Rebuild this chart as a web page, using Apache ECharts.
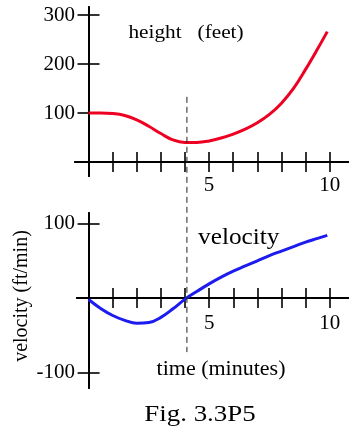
<!DOCTYPE html>
<html>
<head>
<meta charset="utf-8">
<script src="https://cdn.jsdelivr.net/npm/echarts@6/dist/echarts.min.js"></script>
<style>
  html, body { margin: 0; padding: 0; background: #fff; }
  #chart { width: 349px; height: 430px; }
</style>
</head>
<body>
<div id="chart"></div>
<script>
// ticks + labels
const timeTicks = [1, 2, 3, 4, 5, 6, 7, 8, 9, 10];
const timeLabels = [5, 10];
const heightTicks = [100, 200, 300];
const velocityTicks = [-100, 100];

// height (feet) vs time (minutes)
const heightTime = [0, 0.5, 1, 1.5, 2, 2.5, 3, 3.5, 4, 4.5, 5, 5.5, 6, 6.5, 7, 7.5, 8, 8.5, 9, 9.5, 9.9];
const heightFeet = [100, 100, 99, 95, 86, 73, 58, 45, 40, 40, 43, 49, 57, 67, 80, 97, 120, 150, 189, 231, 266];

// velocity (ft/min) vs time (minutes)
const velocityTime = [0, 0.5, 1, 1.5, 2, 2.5, 3, 3.5, 4, 4.5, 5, 5.5, 6, 6.5, 7, 7.5, 8, 8.5, 9, 9.5, 9.9];
const velocityFtMin = [-2, -14, -23.5, -30, -34, -33, -26, -14.5, -1.5, 9, 19, 28, 36, 43, 50, 57, 63, 69, 75, 80, 84];

// dashed guide at the minimum of height / zero of velocity
const turnTime = 4.08;
const guideHeights = [133, -388];

const FONT = '"Liberation Serif", "DejaVu Serif", serif';
const zip = (xs, ys) => xs.map((x, i) => [x, ys[i]]);

const chart = echarts.init(document.getElementById('chart'));

// two copies of each axis: one with ticks out, one with ticks in -> cross ticks
// (labels sit relative to the grid edge, hence the odd margins)
function xAxes(gridIndex, min, yIdx, labelMargin) {
  const base = {
    type: 'value', gridIndex: gridIndex, min: min, max: 10.8,
    position: 'bottom',
    splitLine: { show: false },
    axisLine: { onZero: true, onZeroAxisIndex: yIdx, lineStyle: { color: '#000', width: 2 } },
    axisTick: { customValues: timeTicks, length: 10, lineStyle: { color: '#000', width: 1.6 } }
  };
  return [
    Object.assign({}, base, {
      axisLabel: { customValues: timeLabels, margin: labelMargin, color: '#000', fontFamily: FONT, fontSize: 21 }
    }),
    Object.assign({}, base, {
      axisLine: { onZero: true, onZeroAxisIndex: yIdx + 1, lineStyle: { color: '#000', width: 2 } },
      axisTick: { customValues: timeTicks, length: 10, inside: true, lineStyle: { color: '#000', width: 1.6 } },
      axisLabel: { show: false }
    })
  ];
}

function yAxes(gridIndex, min, max, ticks, xIdx, labelMargin) {
  const base = {
    type: 'value', gridIndex: gridIndex, min: min, max: max,
    position: 'left',
    splitLine: { show: false },
    axisLine: { onZero: true, onZeroAxisIndex: xIdx, lineStyle: { color: '#000', width: 2 } },
    axisTick: { customValues: ticks, length: 11, lineStyle: { color: '#000', width: 1.6 } }
  };
  return [
    Object.assign({}, base, {
      axisLabel: { customValues: ticks, margin: labelMargin, color: '#000', fontFamily: FONT, fontSize: 21 }
    }),
    Object.assign({}, base, {
      axisLine: { onZero: true, onZeroAxisIndex: xIdx + 1, lineStyle: { color: '#000', width: 2 } },
      axisTick: { customValues: ticks, length: 11, inside: true, lineStyle: { color: '#000', width: 1.6 } },
      axisLabel: { show: false }
    })
  ];
}

const option = {
  animation: false,
  backgroundColor: '#fff',
  grid: [
    { left: 75, right: -10, top: 7, height: 169 },
    { left: 77, right: -10, top: 213, height: 175 }
  ],
  xAxis: [].concat(xAxes(0, -0.56, 0, -1), xAxes(1, -0.48, 2, -75)),
  yAxis: [].concat(
    yAxes(0, -28.6, 316.3, heightTicks, 0, 0),
    yAxes(1, -120.8, 114.1, velocityTicks, 2, 2)
  ),
  series: [
    {
      name: 'height', type: 'line', xAxisIndex: 0, yAxisIndex: 0,
      data: zip(heightTime, heightFeet), smooth: 0.4, showSymbol: false,
      lineStyle: { color: '#ee0022', width: 3 }
    },
    {
      name: 'velocity', type: 'line', xAxisIndex: 2, yAxisIndex: 2,
      data: zip(velocityTime, velocityFtMin), smooth: 0.4, showSymbol: false,
      lineStyle: { color: '#1c1cee', width: 3 }
    },
    {
      name: 'guide', type: 'line', xAxisIndex: 0, yAxisIndex: 0, clip: false, silent: true,
      data: guideHeights.map(h => [turnTime, h]), showSymbol: false,
      lineStyle: { color: '#222', width: 1, type: [6, 4] }
    }
  ],
  graphic: [
    { type: 'text', x: 186, y: 33, scaleX: 1.12,
      style: { text: 'height   (feet)', font: '19px ' + FONT, fill: '#000', textAlign: 'center', textVerticalAlign: 'middle' } },
    { type: 'text', x: 198, y: 238, scaleX: 1.1,
      style: { text: 'velocity', font: '23px ' + FONT, fill: '#000', textAlign: 'left', textVerticalAlign: 'middle' } },
    { type: 'text', x: 221, y: 370, scaleX: 1.1,
      style: { text: 'time (minutes)', font: '20px ' + FONT, fill: '#000', textAlign: 'center', textVerticalAlign: 'middle' } },
    { type: 'text', x: 22, y: 296, rotation: Math.PI / 2,
      style: { text: 'velocity (ft/min)', font: '20px ' + FONT, fill: '#000', textAlign: 'center', textVerticalAlign: 'middle' } },
    { type: 'text', x: 200, y: 415, scaleX: 1.12,
      style: { text: 'Fig. 3.3P5', font: '24px ' + FONT, fill: '#000', textAlign: 'center', textVerticalAlign: 'middle' } }
  ]
};

chart.setOption(option);
</script>
</body>
</html>
